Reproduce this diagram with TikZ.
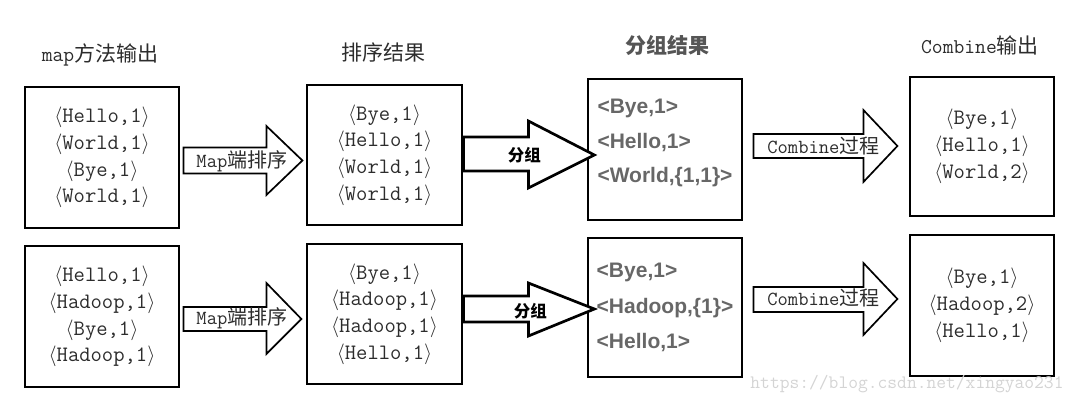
\documentclass[tikz,border=0pt]{standalone}
\usepackage{fontspec}
\newfontfamily\cjk{Noto Sans CJK SC}
\newfontfamily\arial{Liberation Sans}
\usepackage{tikz}
\usetikzlibrary{calc}
\definecolor{inkgrey}{HTML}{2C2C2C}
\definecolor{boldgrey}{HTML}{676767}
\definecolor{headgrey}{HTML}{555555}
\definecolor{markgrey}{HTML}{D4D4D4}
\tikzset{
    kvbox/.style={draw, line width=2.8pt, align=center, text=inkgrey,
        font=\ttfamily\fontsize{22}{26.7}\selectfont},
    grpbox/.style={draw, line width=2.8pt, align=left, text=boldgrey,
        font=\arial\bfseries\fontsize{21}{34.5}\selectfont},
    heading/.style={text=inkgrey, font=\fontsize{21}{25}\selectfont},
    hollow/.style={draw, fill=white, line width=1.7pt, line join=miter},
    hollowthick/.style={hollow, line width=2.7pt},
    arrlbl/.style={text=inkgrey, font=\fontsize{20}{24}\selectfont,
        inner sep=0pt},
    grplbl/.style={font=\cjk\bfseries\fontsize{16.5}{20}\selectfont,
        inner sep=0pt},
}

\begin{document}
\begin{tikzpicture}[x=1pt, y=-1pt]
\useasboundingbox (0,0) rectangle (1080,404);

% ================================================================
%  HEADINGS
% ================================================================

\node[heading] (hmap)  at (100, 55) {{\ttfamily map}{\cjk 方法输出}};
\node[heading] (hsort) at (383, 52) {\cjk 排序结果};
\node[heading, text=headgrey, font=\cjk\bfseries\fontsize{21}{25}\selectfont]
    (hgrp) at (667, 45) {分组结果};
\node[heading] (hcomb) at (980, 45) {{\ttfamily Combine}{\cjk 输出}};

% ================================================================
%  FIRST ROW
% ================================================================

\node[kvbox, minimum width=154, minimum height=141] (map1) at (102, 157.5)
    {$\langle$Hello,1$\rangle$\\$\langle$World,1$\rangle$\\
     $\langle$Bye,1$\rangle$\\$\langle$World,1$\rangle$};
\node[kvbox, minimum width=155, minimum height=140] (sort1) at (384.5, 155)
    {$\langle$Bye,1$\rangle$\\$\langle$Hello,1$\rangle$\\
     $\langle$World,1$\rangle$\\$\langle$World,1$\rangle$};
\node[grpbox, minimum width=154, minimum height=141] (grp1) at (665, 149.5)
    {<Bye,1>\\<Hello,1>\\<World,\{1,1\}>\\[-18pt]\mbox{}};
\node[kvbox, minimum width=144, minimum height=139] (comb1) at (982, 146.5)
    {$\langle$Bye,1$\rangle$\\$\langle$Hello,1$\rangle$\\
     $\langle$World,2$\rangle$};

% Map side sort
\draw[hollow] ($(map1.east)+(3,-10)$) -- ++(83,0) -- ++(0,-21.5)
    -- ++(36,34.5) -- ++(-36,34.5) -- ++(0,-21.5) -- ++(-83,0) -- cycle;
\node[arrlbl] (lmap1) at ($(map1.east)+(61.5,4)$)
    {{\ttfamily Map}{\cjk 端排序}};

% grouping
\draw[hollowthick] ($(sort1.east)+(0,-18)$) -- ++(65,0) -- ++(0,-16)
    -- ++(66,34) -- ++(-66,33) -- ++(0,-17) -- ++(-65,0) -- cycle;
\node[grplbl] (lgrp1) at ($(sort1.east)+(61,0)$) {分组};

% combine
\draw[hollow] ($(grp1.east)+(10,-15.5)$) -- ++(110,0) -- ++(0,-24)
    -- ++(34,36) -- ++(-34,36) -- ++(0,-24) -- ++(-110,0) -- cycle;
\node[arrlbl] (lcomb1) at ($(grp1.east)+(80,-3.5)$)
    {{\ttfamily Combine}{\cjk 过程}};

% ================================================================
%  SECOND ROW
% ================================================================

\node[kvbox, minimum width=154, minimum height=141] (map2) at (102, 316.5)
    {$\langle$Hello,1$\rangle$\\$\langle$Hadoop,1$\rangle$\\
     $\langle$Bye,1$\rangle$\\$\langle$Hadoop,1$\rangle$};
\node[kvbox, minimum width=155, minimum height=140] (sort2) at (384.5, 314)
    {$\langle$Bye,1$\rangle$\\$\langle$Hadoop,1$\rangle$\\
     $\langle$Hadoop,1$\rangle$\\$\langle$Hello,1$\rangle$};
\node[grpbox, minimum width=154, minimum height=139,
      font=\arial\bfseries\fontsize{21}{35.5}\selectfont] (grp2) at (665, 307.5)
    {<Bye,1>\\<Hadoop,\{1\}>\\<Hello,1>};
\node[kvbox, minimum width=144, minimum height=141] (comb2) at (982, 305.5)
    {$\langle$Bye,1$\rangle$\\$\langle$Hadoop,2$\rangle$\\
     $\langle$Hello,1$\rangle$};

% Map side sort
\draw[hollow] ($(map2.east)+(3,-9.5)$) -- ++(83,0) -- ++(0,-24)
    -- ++(35,36) -- ++(-35,35) -- ++(0,-23) -- ++(-83,0) -- cycle;
\node[arrlbl] (lmap2) at ($(map2.east)+(61.5,1.5)$)
    {{\ttfamily Map}{\cjk 端排序}};

% grouping
\draw[hollowthick] ($(sort2.east)+(0,-18)$) -- ++(65,0) -- ++(0,-13)
    -- ++(66,26) -- ++(-66,27) -- ++(0,-14) -- ++(-65,0) -- cycle;
\node[grplbl] (lgrp2) at ($(sort2.east)+(67,-3)$) {分组};

% combine
\draw[hollow] ($(grp2.east)+(10,-20.5)$) -- ++(110,0) -- ++(0,-24)
    -- ++(34,36) -- ++(-34,36) -- ++(0,-23) -- ++(-110,0) -- cycle;
\node[arrlbl] (lcomb2) at ($(grp2.east)+(80,-9.5)$)
    {{\ttfamily Combine}{\cjk 过程}};

% watermark
\node[text=markgrey, font=\ttfamily\fontsize{19}{22}\selectfont]
    (mark) at (907, 384) {https://blog.csdn.net/xingyao231};

\end{tikzpicture}
\end{document}
